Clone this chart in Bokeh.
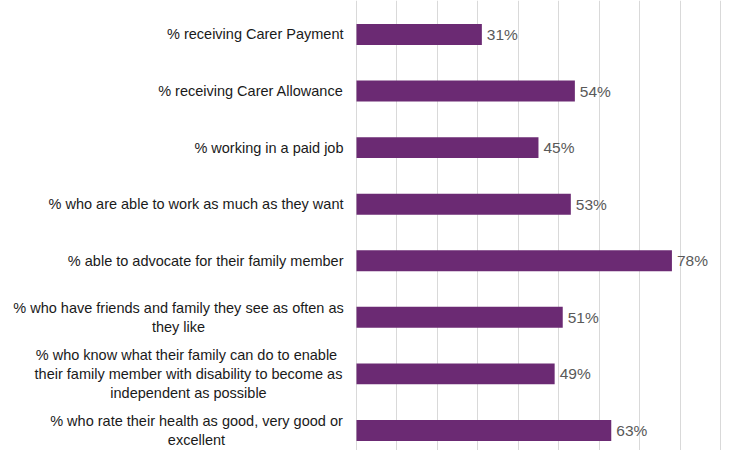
from bokeh.plotting import figure
from bokeh.models import Range1d, FixedTicker, ColumnDataSource
from bokeh.core.properties import value
from bokeh.embed import file_html
from bokeh.resources import INLINE

categories = [
    "% receiving Carer Payment",
    "% receiving Carer Allowance",
    "% working in a paid job",
    "% who are able to work as much as they want",
    "% able to advocate for their family member",
    "% who have friends and family they see as often as\nthey like",
    "%  who know what their family can do to enable\ntheir family member with disability to become as\nindependent as possible",
    "% who rate their health as good, very good or\nexcellent",
]
values = [31, 54, 45, 53, 78, 51, 49, 63]
value_labels = [f"{v}%" for v in values]
grid_ticks = [0, 10, 20, 30, 40, 50, 60, 70, 80, 90]

# layout: label alignment / offsets (pixels from the zero line)
label_align = ["right", "right", "right", "right", "right", "center", "center", "center"]
label_offset = [-13, -13, -13, -13, -13, -178, -168, -160]

pos = list(range(len(categories)))

p = figure(width=750, height=450, output_backend="svg", toolbar_location=None,
           x_range=Range1d(-88.03, 97.43), y_range=Range1d(7.354, -0.601),
           min_border=0, min_border_left=0, min_border_right=0,
           min_border_top=0, min_border_bottom=0)
p.outline_line_color = None
p.xaxis.visible = False
p.yaxis.visible = False
p.ygrid.grid_line_color = None
p.xgrid.ticker = FixedTicker(ticks=grid_ticks)
p.xgrid.grid_line_color = "#d9d9d9"
p.xgrid.grid_line_width = 1

src = ColumnDataSource(dict(y=pos, v=values, lab=value_labels, cat=categories,
                            al=label_align, off=label_offset))

p.hbar(y="y", right="v", left=0, height=0.37, source=src,
       fill_color="#6B2A73", line_color=None)

p.text(x="v", y="y", text="lab", source=src, x_offset=5,
       text_align="left", text_baseline="middle",
       text_font=value("Liberation Sans"), text_font_size="15.5px",
       text_color="#595959")

p.text(x=0, y="y", text="cat", source=src, x_offset="off",
       text_align="al", text_baseline="middle",
       text_font=value("Liberation Sans"), text_font_size="14.5px",
       text_color="#1a1a1a", text_line_height=1.2)

open("out.html", "w").write(file_html(p, INLINE))
